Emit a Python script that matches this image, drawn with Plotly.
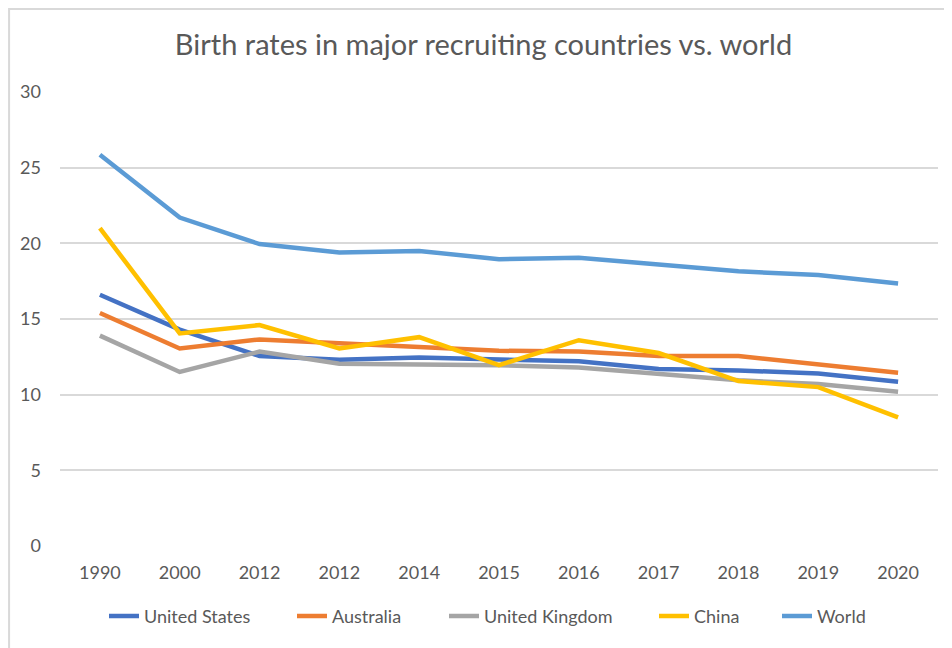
import plotly.graph_objects as go

years = ["1990", "2000", "2012", "2012", "2014", "2015", "2016", "2017", "2018", "2019", "2020"]
united_states = [16.6, 14.3, 12.55, 12.3, 12.45, 12.3, 12.2, 11.7, 11.6, 11.4, 10.85]
australia = [15.4, 13.05, 13.65, 13.4, 13.15, 12.9, 12.85, 12.55, 12.55, 12.0, 11.45]
united_kingdom = [13.9, 11.5, 12.85, 12.05, 12.0, 11.95, 11.8, 11.4, 10.95, 10.7, 10.2]
china = [21.0, 14.05, 14.6, 13.05, 13.8, 11.95, 13.6, 12.75, 10.9, 10.5, 8.5]
world = [25.85, 21.7, 19.95, 19.4, 19.5, 18.95, 19.05, 18.6, 18.15, 17.9, 17.35]

series = [
    ("United States", united_states, "#4472C4"),
    ("Australia", australia, "#ED7D31"),
    ("United Kingdom", united_kingdom, "#A5A5A5"),
    ("China", china, "#FFC000"),
    ("World", world, "#5B9BD5"),
]

FONT = "Lato, Open Sans, sans-serif"
idx = list(range(len(years)))

# legend entry left positions (paper fraction of the plot width)
legend_x = [(104 - 60) / 878, (292 - 60) / 878, (444 - 60) / 878, (654 - 60) / 878, (777 - 60) / 878]

fig = go.Figure()
legend_layout = {}
for i, (name, vals, color) in enumerate(series):
    key = "legend" if i == 0 else f"legend{i + 1}"
    fig.add_trace(go.Scatter(x=idx, y=vals, name=name, mode="lines", legend=key,
                             line=dict(color=color, width=4.5)))
    legend_layout[key] = dict(orientation="h", x=legend_x[i], xanchor="left", y=-0.155,
                              yanchor="middle", font=dict(size=18, color="#595959"),
                              bgcolor="rgba(0,0,0,0)")

fig.update_layout(
    width=952, height=648,
    margin=dict(l=52, r=22, t=84, b=110),
    paper_bgcolor="white", plot_bgcolor="white",
    font=dict(family=FONT, color="#595959", size=18),
    title=dict(text="Birth rates in major recruiting countries vs. world",
               x=0.4995, xanchor="center", y=0.943, yanchor="middle",
               font=dict(family=FONT, size=29, color="#595959")),
    showlegend=True,
    xaxis=dict(range=[-0.5, len(years) - 0.5], tickmode="array", tickvals=idx, ticktext=years,
               showgrid=False, zeroline=False, showline=False, ticks="", ticklabelstandoff=14,
               tickfont=dict(size=18, color="#595959")),
    yaxis=dict(range=[0, 30], dtick=5, showgrid=True, gridcolor="#D9D9D9", gridwidth=1.5,
               zeroline=False, showline=False, ticks="", ticklabelstandoff=18,
               tickfont=dict(size=18, color="#595959")),
    shapes=[dict(type="rect", xref="paper", yref="paper", x0=-0.058, x1=1.1, y0=-0.3, y1=1.183,
                 line=dict(color="#D9D9D9", width=2), fillcolor="rgba(0,0,0,0)", layer="below")],
    **legend_layout,
)

fig.write_html("out.html")
